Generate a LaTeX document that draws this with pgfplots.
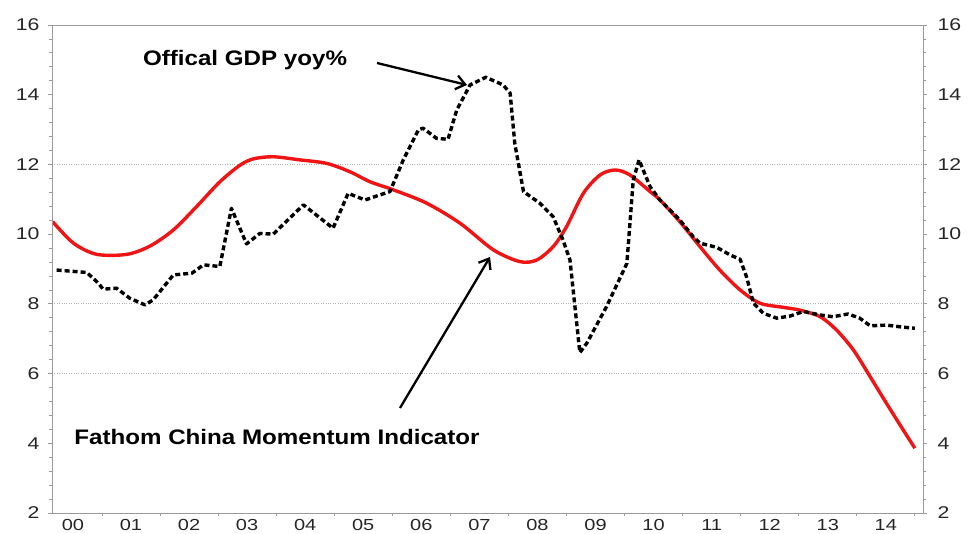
\documentclass[border=0pt]{standalone}
\usepackage{pgfplots}
\pgfplotsset{compat=1.18}
\usepackage{fontspec}
\setmainfont{Liberation Sans}
\newfontfamily\tickfont[FakeStretch=1.25]{Liberation Sans}
\newfontfamily\labfont[FakeStretch=1.15]{Liberation Sans}
\usetikzlibrary{arrows.meta}
\definecolor{axgray}{HTML}{9A9A9A}
\definecolor{gridgray}{HTML}{B0B0B0}
\definecolor{fred}{HTML}{F01414}
\begin{document}
\begin{tikzpicture}[x=1pt,y=1pt]
\path[use as bounding box] (0,0) rectangle (970,534);
\begin{axis}[
  at={(52pt,21pt)}, anchor=south west,
  width=871pt, height=488pt, scale only axis,
  xmin=2000.14, xmax=2015.14, ymin=2, ymax=16,
  /pgf/number format/assume math mode=true,
  axis line style={draw=axgray, line width=0.9pt},
  tick style={draw=axgray, line width=0.8pt},
  tick align=outside,
  xtick pos=bottom, ytick pos=left,
  xtick={2000.5,2001.5,2002.5,2003.5,2004.5,2005.5,2006.5,2007.5,2008.5,2009.5,2010.5,2011.5,2012.5,2013.5,2014.5},
  xticklabels={00,01,02,03,04,05,06,07,08,09,10,11,12,13,14},
  minor xtick={2001,2002,2003,2004,2005,2006,2007,2008,2009,2010,2011,2012,2013,2014,2015},
  ytick={2,4,6,8,10,12,14,16},
  minor y tick num=4,
  major x tick style={draw=none},
  major tick length=4pt, minor tick length=3pt,
  xticklabel style={font=\tickfont\fontsize{16}{16}\selectfont, text=black!85, inner sep=1.5pt, yshift=-1pt},
  yticklabel style={font=\tickfont\fontsize{17}{17}\selectfont, text=black!85, xshift=-5pt},
  extra y ticks={6,8,12},
  extra y tick labels={},
  extra y tick style={grid=major, major grid style={draw=gridgray, dotted, line width=0.7pt}, major tick length=0pt},
]
\addplot[fred, line width=3.4pt, smooth, line join=round] coordinates {
(2000.15,10.36) (2000.51,9.74) (2000.91,9.42) (2001.43,9.42) (2001.83,9.66)
(2002.23,10.12) (2002.63,10.79) (2003.03,11.50) (2003.38,11.98) (2003.61,12.16)
(2003.95,12.22) (2004.41,12.13) (2004.87,12.03) (2005.27,11.79) (2005.62,11.50)
(2006.02,11.27) (2006.59,10.89) (2007.17,10.31) (2007.74,9.55) (2008.20,9.21)
(2008.49,9.26) (2008.77,9.64) (2009.00,10.21) (2009.29,11.17) (2009.58,11.70)
(2009.84,11.84) (2010.09,11.70) (2010.44,11.22) (2010.61,10.98) (2010.95,10.36)
(2011.30,9.64) (2011.64,8.97) (2011.99,8.40) (2012.33,8.02) (2012.73,7.90)
(2013.02,7.82) (2013.37,7.63) (2013.65,7.25) (2013.94,6.68) (2014.23,5.91)
(2014.51,5.15) (2014.80,4.38) (2015.00,3.86)
};
\addplot[black, line width=3.4pt, dash pattern=on 5pt off 3pt, line join=round] coordinates {
(2000.22,8.97) (2000.74,8.90) (2000.94,8.59) (2001.02,8.42) (2001.25,8.45)
(2001.48,8.16) (2001.74,7.97) (2001.88,8.11) (2002.23,8.83) (2002.55,8.88)
(2002.75,9.12) (2003.03,9.07) (2003.23,10.74) (2003.49,9.72) (2003.72,10.02)
(2003.95,10.00) (2004.47,10.84) (2004.98,10.17) (2005.24,11.17) (2005.53,10.98)
(2005.96,11.22) (2006.19,12.13) (2006.45,12.99) (2006.53,13.04) (2006.76,12.75)
(2006.96,12.72) (2007.11,13.56) (2007.34,14.28) (2007.61,14.50) (2007.91,14.28)
(2008.03,14.04) (2008.11,12.60) (2008.26,11.22) (2008.54,10.89) (2008.77,10.50)
(2008.94,9.83) (2009.06,9.26) (2009.23,6.60) (2009.35,6.87) (2009.69,7.92)
(2010.04,9.16) (2010.15,11.55) (2010.25,12.13) (2010.44,11.36) (2010.61,10.98)
(2010.95,10.41) (2011.18,9.93) (2011.30,9.74) (2011.59,9.62) (2011.82,9.40)
(2011.99,9.28) (2012.10,8.78) (2012.22,8.02) (2012.39,7.73) (2012.62,7.59)
(2012.85,7.65) (2013.08,7.78) (2013.37,7.68) (2013.59,7.63) (2013.85,7.71)
(2014.05,7.59) (2014.23,7.37) (2014.51,7.39) (2014.80,7.33) (2015.00,7.30)
};
\end{axis}
\begin{axis}[
  at={(52pt,21pt)}, anchor=south west,
  width=871pt, height=488pt, scale only axis,
  xmin=2000.14, xmax=2015.14, ymin=2, ymax=16,
  /pgf/number format/assume math mode=true,
  axis line style={draw=axgray, line width=0.9pt},
  tick style={draw=axgray, line width=0.8pt},
  tick align=outside,
  xtick=\empty,
  ytick pos=right, yticklabel pos=right,
  ytick={2,4,6,8,10,12,14,16},
  minor y tick num=4,
  major tick length=4pt, minor tick length=3pt,
  yticklabel style={font=\tickfont\fontsize{17}{17}\selectfont, text=black!85, xshift=7pt},
]
\end{axis}
\node[font=\labfont\bfseries\fontsize{21}{21}\selectfont] at (245,474) {Offical GDP yoy\%};
\draw[line width=2.3pt, -{Straight Barb[length=9pt,width=14pt,line width=2.3pt]}] (377,471) -- (467,449);
\node[font=\labfont\bfseries\fontsize{21}{21}\selectfont] at (277,97) {Fathom China Momentum Indicator};
\draw[line width=2.3pt, -{Straight Barb[length=9pt,width=14pt,line width=2.3pt]}] (400,126) -- (490,277);
\end{tikzpicture}
\end{document}
